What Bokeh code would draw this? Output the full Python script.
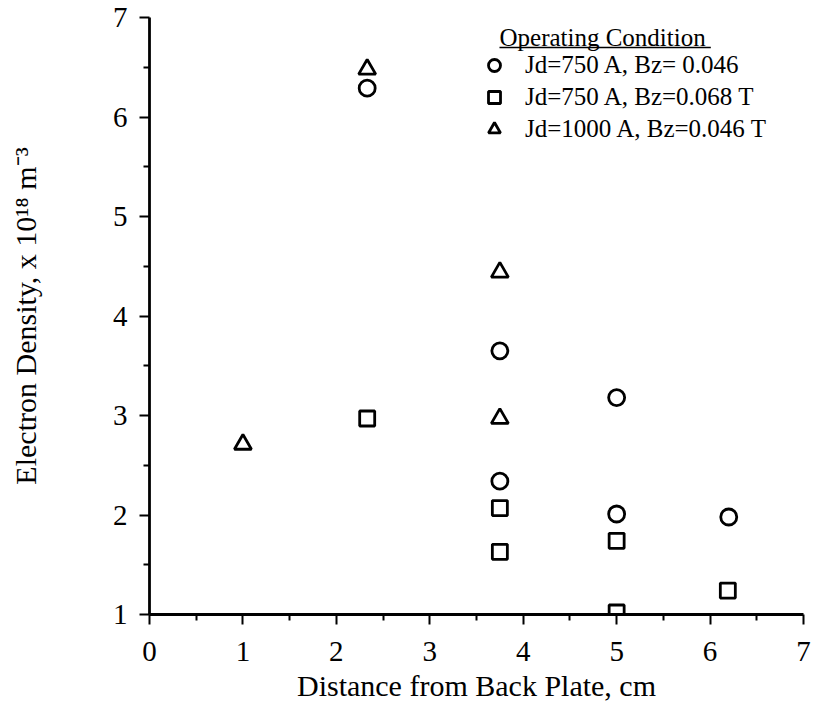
from bokeh.plotting import figure
from bokeh.models import Legend, LegendItem, Label, Range1d, FixedTicker
from bokeh.embed import file_html
from bokeh.resources import INLINE

# ---- data ----
x_ticks = [0, 1, 2, 3, 4, 5, 6, 7]
y_ticks = [1, 2, 3, 4, 5, 6, 7]

circ_x = [2.33, 3.75, 3.75, 5.0, 5.0, 6.2]
circ_y = [6.29, 3.65, 2.34, 3.18, 2.01, 1.98]

sq_x = [2.33, 3.75, 3.75, 5.0, 5.0, 6.19]
sq_y = [2.97, 2.07, 1.63, 1.74, 1.02, 1.24]

tri_x = [1.0, 2.33, 3.75, 3.75]
tri_y = [2.71, 6.48, 4.44, 2.97]

labels = ["Jd=750 A, Bz= 0.046", "Jd=750 A, Bz=0.068 T", "Jd=1000 A, Bz=0.046 T"]
legend_title = "Operating Condition"

FONT = "Liberation Serif"

p = figure(width=811, height=715, x_range=Range1d(0, 7), y_range=Range1d(1, 7),
           output_backend="svg", toolbar_location=None,
           min_border_left=149, min_border_right=8, min_border_top=17, min_border_bottom=101)
p.grid.visible = False
p.outline_line_color = None
p.background_fill_color = "white"
p.border_fill_color = "white"

rc = p.scatter(circ_x, circ_y, marker="circle", size=16, line_width=2.8,
               line_color="black", fill_color=None)
rs = p.scatter(sq_x, sq_y, marker="square", size=15, line_width=2.8,
               line_color="black", fill_color=None)
rt = p.scatter(tri_x, tri_y, marker="triangle", size=17, line_width=2.8,
               line_color="black", fill_color=None)

p.xaxis.ticker = FixedTicker(ticks=x_ticks, minor_ticks=[t + 0.5 for t in x_ticks[:-1]])
p.yaxis.ticker = FixedTicker(ticks=y_ticks, minor_ticks=[t + 0.5 for t in y_ticks[:-1]])

for ax in (p.xaxis[0], p.yaxis[0]):
    ax.axis_line_width = 2.8
    ax.axis_line_color = "black"
    ax.major_tick_line_width = 2
    ax.minor_tick_line_width = 2
    ax.major_tick_line_color = "black"
    ax.minor_tick_line_color = "black"
    ax.major_tick_in = 0
    ax.major_tick_out = 10
    ax.minor_tick_in = 0
    ax.minor_tick_out = 6
    ax.major_label_text_font = FONT
    ax.major_label_text_font_size = "29px"
    ax.major_label_text_color = "black"
    ax.axis_label_text_font = FONT
    ax.axis_label_text_font_style = "normal"
    ax.axis_label_text_color = "black"

p.xaxis.axis_label = "Distance from Back Plate, cm"
p.xaxis.axis_label_text_font_size = "30px"
p.yaxis.axis_label = "Electron Density, x 10\u00b9\u2078 m\u207b\u00b3"
p.yaxis.axis_label_text_font_size = "30px"
p.xaxis.major_label_standoff = 17
p.xaxis.axis_label_standoff = 5
p.yaxis.major_label_standoff = 12
p.yaxis.axis_label_standoff = 68

# legend title with underline
p.add_layout(Label(x=3.746, y=6.80, text=legend_title, text_font=FONT,
                   text_font_size="25px", text_baseline="middle", text_color="black"))
p.line([3.746, 6.008], [6.699, 6.699], line_color="black", line_width=1.5)

legend = Legend(items=[LegendItem(label=labels[0], renderers=[rc]),
                       LegendItem(label=labels[1], renderers=[rs]),
                       LegendItem(label=labels[2], renderers=[rt])],
                location=(330, 470), padding=0, margin=0, spacing=2,
                glyph_width=30, glyph_height=30, label_height=30, label_standoff=16,
                label_text_font=FONT, label_text_font_size="25px",
                label_text_color="black",
                border_line_color=None, background_fill_alpha=0)
p.add_layout(legend)

open("out.html", "w").write(file_html(p, INLINE))
